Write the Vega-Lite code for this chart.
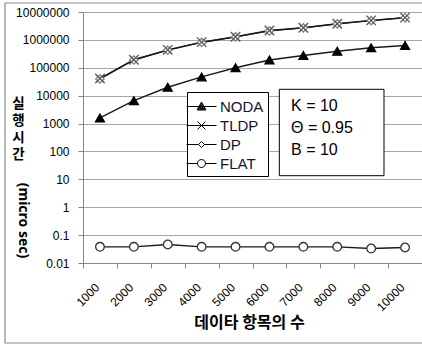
{
  "$schema": "https://vega.github.io/schema/vega-lite/v6.json",
  "width": 339,
  "height": 251,
  "autosize": {"type": "none"},
  "padding": {"left": 83, "top": 12, "right": 0, "bottom": 84},
  "background": "white",
  "config": {"view": {"stroke": null}, "font": "Liberation Sans"},
  "datasets": {
    "runtime": [
      {"series": "FLAT", "n": 1000, "time": 0.038},
      {"series": "FLAT", "n": 2000, "time": 0.038},
      {"series": "FLAT", "n": 3000, "time": 0.046},
      {"series": "FLAT", "n": 4000, "time": 0.038},
      {"series": "FLAT", "n": 5000, "time": 0.038},
      {"series": "FLAT", "n": 6000, "time": 0.038},
      {"series": "FLAT", "n": 7000, "time": 0.038},
      {"series": "FLAT", "n": 8000, "time": 0.038},
      {"series": "FLAT", "n": 9000, "time": 0.033},
      {"series": "FLAT", "n": 10000, "time": 0.036},
      {"series": "DP", "n": 1000, "time": 40000},
      {"series": "DP", "n": 2000, "time": 190000},
      {"series": "DP", "n": 3000, "time": 430000},
      {"series": "DP", "n": 4000, "time": 810000},
      {"series": "DP", "n": 5000, "time": 1280000},
      {"series": "DP", "n": 6000, "time": 2100000},
      {"series": "DP", "n": 7000, "time": 2700000},
      {"series": "DP", "n": 8000, "time": 3750000},
      {"series": "DP", "n": 9000, "time": 4900000},
      {"series": "DP", "n": 10000, "time": 6200000},
      {"series": "TLDP", "n": 1000, "time": 41000},
      {"series": "TLDP", "n": 2000, "time": 195000},
      {"series": "TLDP", "n": 3000, "time": 440000},
      {"series": "TLDP", "n": 4000, "time": 830000},
      {"series": "TLDP", "n": 5000, "time": 1300000},
      {"series": "TLDP", "n": 6000, "time": 2160000},
      {"series": "TLDP", "n": 7000, "time": 2730000},
      {"series": "TLDP", "n": 8000, "time": 3800000},
      {"series": "TLDP", "n": 9000, "time": 5000000},
      {"series": "TLDP", "n": 10000, "time": 6300000},
      {"series": "NODA", "n": 1000, "time": 1600},
      {"series": "NODA", "n": 2000, "time": 6600},
      {"series": "NODA", "n": 3000, "time": 20000},
      {"series": "NODA", "n": 4000, "time": 47000},
      {"series": "NODA", "n": 5000, "time": 100000},
      {"series": "NODA", "n": 6000, "time": 190000},
      {"series": "NODA", "n": 7000, "time": 275000},
      {"series": "NODA", "n": 8000, "time": 390000},
      {"series": "NODA", "n": 9000, "time": 520000},
      {"series": "NODA", "n": 10000, "time": 630000}
    ]
  },
  "data": {"name": "runtime"},
  "layer": [
    {
      "data": {"values": [{}]},
      "mark": {"type": "rect", "fill": null, "stroke": "#8c8c8c", "strokeWidth": 1.2},
      "encoding": {
        "x": {"datum": -1801, "type": "quantitative", "scale": {"domain": [500, 10500]}, "axis": null},
        "x2": {"datum": 10588},
        "y": {"datum": 21000000, "type": "quantitative", "axis": null},
        "y2": {"datum": 0.00001355}
      }
    },
    {
      "mark": {"type": "line", "color": "#1a1a1a", "strokeWidth": 1.4},
      "encoding": {
        "x": {
          "field": "n",
          "type": "ordinal",
          "scale": {"paddingInner": 0, "paddingOuter": 0},
          "axis": {
            "title": "데이타 항목의 수",
            "titleFont": "Noto Sans CJK KR",
            "titleFontSize": 16,
            "titleFontWeight": "bold",
            "titleColor": "black",
            "titleX": 166,
            "titleY": 59,
            "titleAlign": "center",
            "titleBaseline": "middle",
            "labelAngle": -45,
            "labelAlign": "right",
            "labelBaseline": "middle",
            "labelFontSize": 12,
            "labelColor": "black",
            "labelPadding": 17,
            "labelOffset": -3,
            "tickBand": "extent",
            "tickSize": 5,
            "tickColor": "#868686",
            "domainColor": "#868686",
            "grid": false
          }
        },
        "y": {
          "field": "time",
          "type": "quantitative",
          "scale": {"type": "log", "domain": [0.01, 10000000], "nice": false},
          "axis": {
            "title": ["실", "행", "시", "간"],
            "titleAngle": 0,
            "titleFont": "Noto Sans CJK KR",
            "titleFontSize": 13.5,
            "titleFontWeight": "bold",
            "titleColor": "black",
            "titleLineHeight": 17.2,
            "titleAlign": "center",
            "titleBaseline": "top",
            "titleX": -65,
            "titleY": 84,
            "values": [0.01, 0.1, 1, 10, 100, 1000, 10000, 100000, 1000000, 10000000],
            "format": "~f",
            "labelFontSize": 12,
            "labelColor": "black",
            "labelPadding": 9,
            "tickSize": 5,
            "tickColor": "#868686",
            "domainColor": "#868686",
            "grid": true,
            "gridColor": "#a6a6a6"
          }
        },
        "detail": {"field": "series"}
      }
    },
    {
      "mark": {"type": "point", "opacity": 1, "strokeWidth": 1.3},
      "encoding": {
        "x": {"field": "n", "type": "ordinal", "scale": {"paddingInner": 0, "paddingOuter": 0}, "axis": null},
        "y": {
          "field": "time",
          "type": "quantitative",
          "axis": {
            "orient": "left",
            "title": "(micro sec)",
            "titleAngle": 90,
            "titleFont": "Noto Sans",
            "titleFontSize": 14,
            "titleFontWeight": "bold",
            "titleColor": "black",
            "titleX": -61,
            "titleY": 208,
            "titleAlign": "center",
            "titleBaseline": "middle",
            "labels": false,
            "ticks": false,
            "domain": false,
            "grid": false
          }
        },
        "shape": {
          "field": "series",
          "type": "nominal",
          "scale": {
            "domain": ["NODA", "TLDP", "DP", "FLAT"],
            "range": ["triangle-up", "M-1,-1L1,1M-1,1L1,-1", "diamond", "circle"]
          },
          "legend": null
        },
        "fill": {
          "condition": {"test": "datum.series === 'NODA'", "value": "black"},
          "value": "white"
        },
        "stroke": {
          "condition": [
            {"test": "datum.series === 'NODA'", "value": "black"},
            {"test": "datum.series === 'TLDP'", "value": "#555555"},
            {"test": "datum.series === 'DP'", "value": "#808080"}
          ],
          "value": "#333333"
        },
        "size": {
          "condition": [
            {"test": "datum.series === 'NODA'", "value": 80},
            {"test": "datum.series === 'TLDP'", "value": 90},
            {"test": "datum.series === 'DP'", "value": 70}
          ],
          "value": 75
        }
      }
    },
    {
      "mark": {"type": "point", "filled": false, "color": "black", "strokeWidth": 1, "opacity": 0},
      "encoding": {
        "x": {"field": "n", "type": "ordinal", "scale": {"paddingInner": 0, "paddingOuter": 0}, "axis": null},
        "y": {"field": "time", "type": "quantitative", "axis": null},
        "shape": {
          "field": "series",
          "type": "nominal",
          "scale": {
            "domain": ["NODA", "TLDP", "DP", "FLAT"],
            "range": [
              "M-1.5,0L1.5,0M0,-0.45L0.45,0.35L-0.45,0.35ZM0,-0.316L0.338,0.284L-0.338,0.284ZM0,-0.182L0.225,0.219L-0.225,0.219ZM0,-0.047L0.113,0.153L-0.113,0.153Z",
              "M-1.5,0L1.5,0M-0.4,-0.4L0.4,0.4M-0.4,0.4L0.4,-0.4",
              "M-1.5,0L-0.3,0M0.3,0L1.5,0M0,-0.3L0.3,0L0,0.3L-0.3,0Z",
              "M-1.5,0L-0.4,0M0.4,0L1.5,0M-0.4,0A0.4,0.4,0,1,1,0.4,0A0.4,0.4,0,1,1,-0.4,0Z"
            ]
          },
          "legend": {
            "title": null,
            "orient": "none",
            "legendX": 104,
            "legendY": 80,
            "strokeColor": "black",
            "fillColor": "white",
            "padding": 4,
            "symbolSize": 400,
            "symbolOpacity": 1,
            "symbolStrokeWidth": 1,
            "symbolStrokeColor": "black",
            "labelFont": "Liberation Sans",
            "labelFontSize": 15,
            "labelColor": "#141430",
            "labelOffset": 8,
            "rowPadding": 0
          }
        }
      }
    },
    {
      "data": {"values": [{}]},
      "mark": {"type": "rect", "fill": "white", "stroke": "black", "strokeWidth": 1},
      "encoding": {
        "x": {"datum": 6291, "type": "quantitative", "scale": {"domain": [500, 10500]}, "axis": null},
        "x2": {"datum": 9379},
        "y": {"datum": 16900, "type": "quantitative", "axis": null},
        "y2": {"datum": 13.5}
      }
    },
    {
      "data": {"values": [{}]},
      "mark": {
        "type": "text",
        "text": ["K = 10", "Θ = 0.95", "B = 10"],
        "align": "left",
        "baseline": "middle",
        "font": "Liberation Sans",
        "fontSize": 16,
        "lineHeight": 21.7,
        "color": "black"
      },
      "encoding": {
        "x": {"datum": 6636, "type": "quantitative", "scale": {"domain": [500, 10500]}, "axis": null},
        "y": {"datum": 4090, "type": "quantitative", "axis": null}
      }
    }
  ],
  "resolve": {"axis": {"y": "independent"}, "scale": {"x": "independent", "shape": "independent"}}
}
